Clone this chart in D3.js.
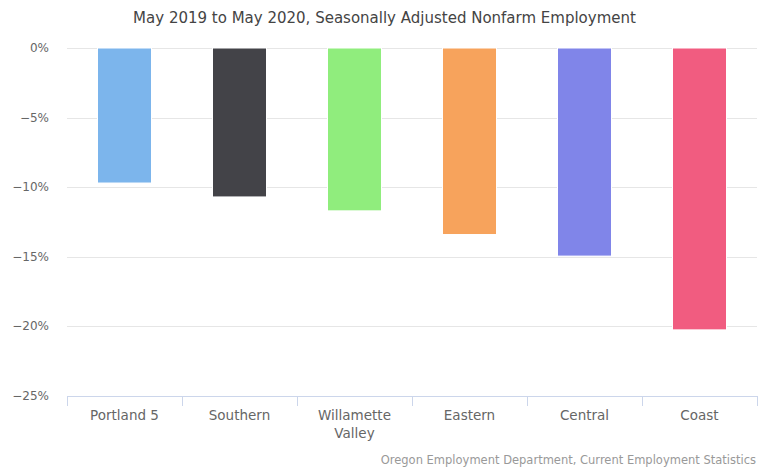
<!DOCTYPE html>
<html>
<head>
<meta charset="utf-8">
<script src="https://cdn.jsdelivr.net/npm/d3@7"></script>
<style>
  body { margin: 0; background: #fff; }
  text { font-family: "DejaVu Sans", sans-serif; }
</style>
</head>
<body>
<svg width="763" height="467"></svg>
<script>
var regions = ["Portland 5", "Southern", "Willamette Valley", "Eastern", "Central", "Coast"],
    changes = [-9.7, -10.7, -11.7, -13.4, -14.95, -20.25],
    colors = ["#7cb5ec", "#434348", "#90ed7d", "#f7a35c", "#8085e9", "#f15c80"],
    yTicks = [0, -5, -10, -15, -20, -25];

var svg = d3.select("svg"),
    width = +svg.attr("width"),
    height = +svg.attr("height");

var plotL = 67, plotR = 757, plotT = 48, plotB = 396;

var x = d3.scaleBand().domain(regions).range([plotL, plotR]).paddingInner(0).paddingOuter(0);
var y = d3.scaleLinear().domain([0, -25]).range([plotT, plotB]);

// title
svg.append("text")
    .attr("x", width / 2 + 3)
    .attr("y", 23)
    .attr("text-anchor", "middle")
    .style("font-size", "15px")
    .style("fill", "#444")
    .text("May 2019 to May 2020, Seasonally Adjusted Nonfarm Employment");

// grid lines
svg.append("g").selectAll("line")
    .data(yTicks.slice(0, -1))
    .enter().append("line")
    .attr("x1", plotL).attr("x2", plotR)
    .attr("y1", d => Math.round(y(d)) + 0.5)
    .attr("y2", d => Math.round(y(d)) + 0.5)
    .attr("stroke", "#e6e6e6");

// y labels
svg.append("g").selectAll("text")
    .data(yTicks)
    .enter().append("text")
    .attr("x", 49)
    .attr("y", d => y(d) + 4)
    .attr("text-anchor", "end")
    .style("font-size", "12px")
    .style("fill", "#666")
    .text(d => (d < 0 ? "\u2212" + (-d) : d) + "%");

// bars
var bw = 54;
svg.append("g").selectAll("rect")
    .data(regions)
    .enter().append("rect")
    .attr("x", d => x(d) + x.bandwidth() / 2 - bw / 2)
    .attr("y", y(0))
    .attr("width", bw)
    .attr("height", (d, i) => y(changes[i]) - y(0))
    .attr("fill", (d, i) => colors[i])
    .attr("stroke", "#fff")
    .attr("stroke-width", 1);

// x axis
var ax = svg.append("g");
ax.append("line")
    .attr("x1", plotL).attr("x2", plotR)
    .attr("y1", plotB + 0.5).attr("y2", plotB + 0.5)
    .attr("stroke", "#ccd6eb");
ax.selectAll(".tick")
    .data(regions.map(d => x(d)).concat([plotR]))
    .enter().append("line")
    .attr("x1", d => Math.round(d) + 0.5).attr("x2", d => Math.round(d) + 0.5)
    .attr("y1", plotB).attr("y2", plotB + 10)
    .attr("stroke", "#ccd6eb");

var lbl = ax.selectAll(".lbl")
    .data(regions)
    .enter().append("text")
    .attr("x", d => x(d) + x.bandwidth() / 2)
    .attr("y", 420)
    .attr("text-anchor", "middle")
    .style("font-size", "13.5px")
    .style("fill", "#666");
lbl.each(function(d) {
  var words = d === "Willamette Valley" ? ["Willamette", "Valley"] : [d];
  var t = d3.select(this);
  words.forEach(function(w, i) {
    t.append("tspan")
      .attr("x", x(d) + x.bandwidth() / 2)
      .attr("dy", i ? 18 : 0)
      .text(w);
  });
});

// credit
svg.append("text")
    .attr("x", 756)
    .attr("y", 464)
    .attr("text-anchor", "end")
    .style("font-size", "11.5px")
    .style("fill", "#999")
    .text("Oregon Employment Department, Current Employment Statistics");
</script>
</body>
</html>
